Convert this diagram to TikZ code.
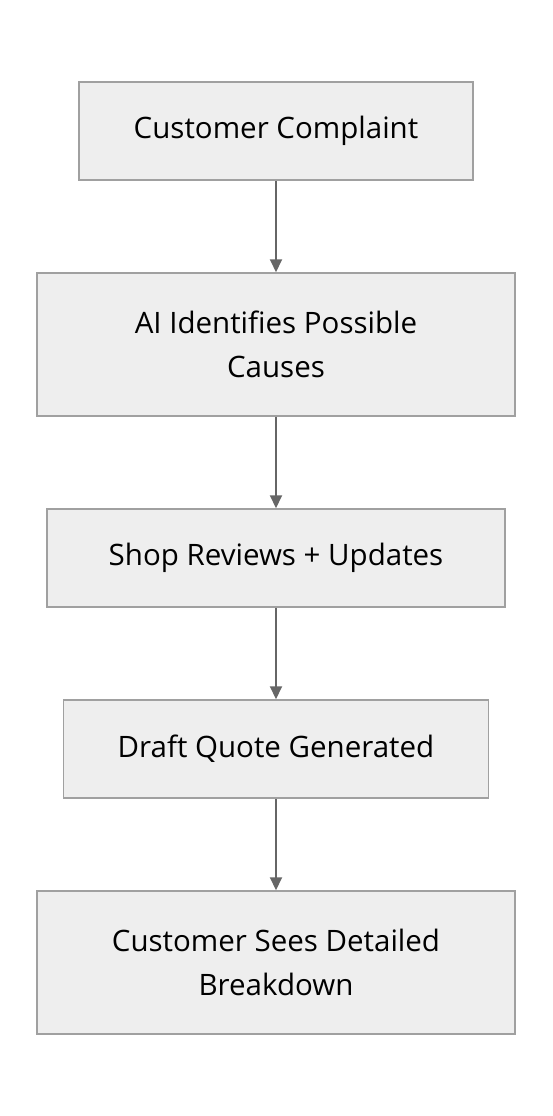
\documentclass[tikz,border=0pt]{standalone}
\usepackage{fontspec}
\setmainfont{Open Sans}
\usetikzlibrary{arrows.meta,positioning}

\definecolor{boxfill}{HTML}{EEEEEE}
\definecolor{boxline}{HTML}{A0A0A0}
\definecolor{arrowline}{HTML}{666666}

\begin{document}
\begin{tikzpicture}[x=1pt,y=1pt,node distance=91.5pt,
  step box/.style={rectangle,draw=boxline,fill=boxfill,line width=1.5pt,
    minimum height=98pt,align=center,font=\fontsize{29.5}{44}\selectfont},
  flow/.style={-{Triangle[length=13pt,width=12pt]},draw=arrowline,line width=2pt}]
    \useasboundingbox (0,0) rectangle (552,-1116);
    \node[step box,minimum width=394pt] (complaint) at (276,-131) {Customer Complaint};
    \node[step box,minimum width=478pt,minimum height=143pt,below=of complaint] (causes) {AI Identifies Possible\\Causes};
    \node[step box,minimum width=458pt,below=of causes] (review) {Shop Reviews + Updates};
    \node[step box,minimum width=425pt,below=of review] (quote) {Draft Quote Generated};
    \node[step box,minimum width=478pt,minimum height=143pt,below=of quote] (breakdown) {Customer Sees Detailed\\Breakdown};
    % arrows between steps
    \draw[flow] (complaint) -- (causes);
    \draw[flow] (causes) -- (review);
    \draw[flow] (review) -- (quote);
    \draw[flow] (quote) -- (breakdown);
\end{tikzpicture}
\end{document}
